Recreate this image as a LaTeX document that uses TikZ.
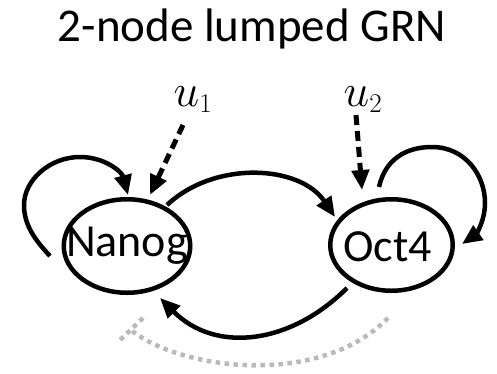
\RequirePackage{fix-cm}
\documentclass[tikz,border=0pt]{standalone}
\usepackage[no-math]{fontspec}
\setmainfont{Carlito}
\usetikzlibrary{arrows.meta,shapes.geometric,calc}
\DeclareMathSizes{46}{46}{27}{18}
\begin{document}
\begin{tikzpicture}[x=1pt,y=-1pt,
  big/.style={font=\fontsize{46}{50}\selectfont, inner sep=0pt},
  gene/.style={ellipse, draw, line width=4.5pt, inner sep=0pt},
  link/.style={line width=4.5pt, -{Triangle[length=20pt,width=17pt]}},
  input/.style={link, line width=5pt, dash pattern=on 10pt off 6pt},
  feedback/.style={line width=4.5pt, draw=black!27, dash pattern=on 4.5pt off 4.5pt},
]
\useasboundingbox (0,0) rectangle (497,373);

% title
\node[big, font=\fontsize{47}{50}\selectfont, anchor=base] (title) at (252,41) {2-node lumped GRN};

% gene nodes
\node[gene, minimum width=126.5pt, minimum height=93.5pt] (Nanog) at (127,246) {};
\node[gene, minimum width=122.5pt, minimum height=91.5pt] (Oct4) at (391.5,245) {};
\node[big, anchor=base] (NanogText) at (127,256.5) {Nanog};
\node[big, anchor=base] (Oct4Text) at (387.5,261.5) {Oct4};

% external inputs
\node[big, anchor=base west] (u1) at (173.5,106) {$u_1$};
\node[big, anchor=base west] (u2) at (343.5,106) {$u_2$};

% input arrows
\draw[input] ($(u1.base west)+(9.5,19)$) -- ($(Nanog.center)+(23,-51)$);
\draw[input] ($(u2.base west)+(12.5,9)$) -- ($(Oct4.center)+(-29.5,-55)$);

% Nanog self-activation
\draw[link] ($(Nanog.center)+(-77,10)$)
  .. controls +(-15,-16) and +(0,20) .. (24,205)
  .. controls +(0,-25) and +(-30,0) .. (80,157)
  .. controls +(25,0) and +(-6,-23) .. ($(Nanog.center)+(1,-51)$);

% Nanog -> Oct4
\draw[link] ($(Nanog.center)+(40,-41)$)
  .. controls +(48,-45) and +(-35,-52) .. ($(Oct4.center)+(-56.5,-28)$);

% Oct4 self-activation
\draw[link] ($(Oct4.center)+(-12.5,-58)$)
  .. controls +(6,-27) and +(-27,0) .. (432,147)
  .. controls +(33,0) and +(0,-28) .. (485,203)
  .. controls +(0,19) and +(13,-9) .. ($(Oct4.center)+(70.5,-1)$);

% Oct4 -> Nanog
\draw[link] ($(Oct4.center)+(-44.5,43)$)
  .. controls +(-56,56) and +(56,56) .. ($(Nanog.center)+(33,52)$);

% repression (dotted, grey)
\draw[feedback] ($(Oct4.center)+(-3.5,73)$)
  .. controls +(-68,70) and +(49,40) .. ($(Nanog.center)+(4,84)$) coordinate (fb);
\draw[feedback] ($(fb)+(12,-12)$) -- ($(fb)+(-13,12)$);
\end{tikzpicture}
\end{document}
